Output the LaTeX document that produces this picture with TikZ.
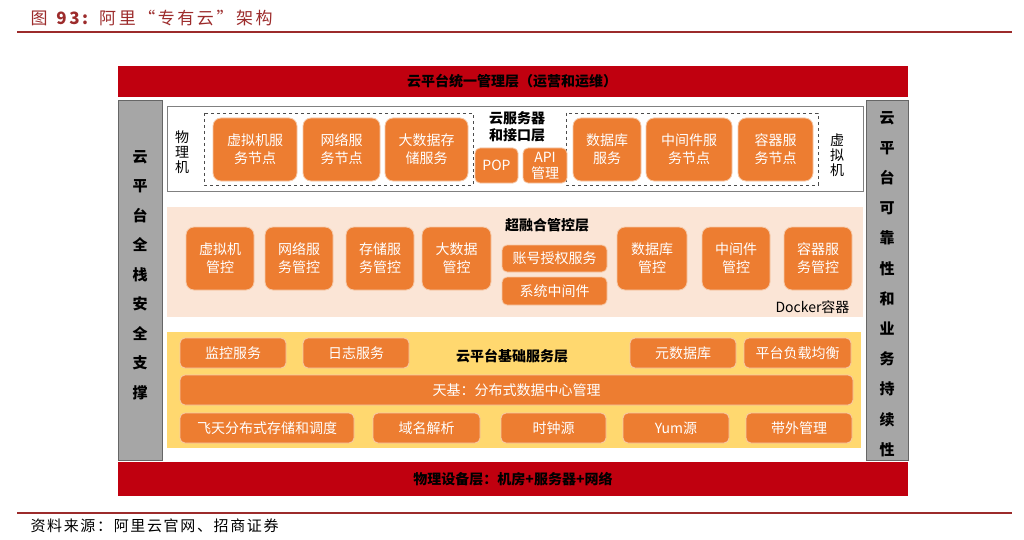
\documentclass[tikz,border=0pt]{standalone}
\usepackage{fontspec}
\setmainfont{Noto Sans CJK SC}
\newfontfamily\capfont{Noto Sans CJK SC}[LetterSpace=15]
\newfontfamily\srcfont{Noto Sans CJK SC}[LetterSpace=11]
\definecolor{barred}{HTML}{C0000F}
\definecolor{titlered}{HTML}{9C2B2B}
\definecolor{boxorange}{HTML}{ED7D31}
\definecolor{boxedge}{HTML}{F6C9A8}
\definecolor{peach}{HTML}{FBE5D6}
\definecolor{sunny}{HTML}{FFD86F}
\definecolor{sidegray}{HTML}{A6A6A6}
\tikzset{
  obox/.style={fill=boxorange, draw=boxedge, line width=0.8pt, rounded corners=8pt, text=white,
    font=\fontsize{14}{18}\selectfont, align=center, inner sep=0pt},
  sbox/.style={obox, rounded corners=5pt},
  layertitle/.style={font=\bfseries\fontsize{14}{17}\selectfont, align=center},
  vtext/.style={font=\fontsize{14}{15}\selectfont, align=center},
}
\begin{document}
\begin{tikzpicture}[x=1pt,y=-1pt]
 \useasboundingbox (0,0) rectangle (1024,540);
 \node[anchor=west, text=titlered, font=\capfont\fontsize{17}{20}\selectfont] (fig) at (27,18) {图 \textbf{93:} 阿里“专有云”架构};
 \draw[titlered, line width=1.2pt] (17,32) -- (1012,32);
 \draw[titlered, line width=1.2pt] (17,513) -- (1012,513);
 \node[anchor=west, font=\srcfont\fontsize{15}{17}\selectfont] (src) at (27,526) {资料来源：阿里云官网、招商证券};

 % frame
 \fill[barred] (118,66) rectangle (908,97);
 \fill[barred] (118,462) rectangle (908,496);
 \node[layertitle] (mgmt) at (512,81) {云平台统一管理层（运营和运维）};
 \node[layertitle] (phys) at (513,479) {物理设备层：机房+服务器+网络};
 \filldraw[fill=sidegray, draw=gray!80!black, line width=0.6pt] (118,100) rectangle (162,460);
 \filldraw[fill=sidegray, draw=gray!80!black, line width=0.6pt] (866,100) rectangle (908,460);
 \node[layertitle, font=\bfseries\fontsize{15}{29.5}\selectfont] (secure) at (140,275) {云\\平\\台\\全\\栈\\安\\全\\支\\撑};
 \node[layertitle, font=\bfseries\fontsize{15}{30.2}\selectfont] (reliab) at (887,284) {云\\平\\台\\可\\靠\\性\\和\\业\\务\\持\\续\\性};

 % server layer
 \draw[gray, line width=0.8pt, fill=white] (167,106) rectangle (863,191);
 \draw[gray!60!black, dashed, line width=0.9pt] (204,113) rectangle (473,185);
 \draw[gray!60!black, dashed, line width=0.9pt] (566,113) rectangle (818,185);
 \node[vtext] (pm) at (182,152) {物\\理\\机};
 \node[vtext] (vm) at (837,155) {虚\\拟\\机};
 \node[obox, minimum width=84, minimum height=63] (vmsvc) at (255,149.5) {虚拟机服\\务节点};
 \node[obox, minimum width=77, minimum height=63] (netsvc) at (341.5,149.5) {网络服\\务节点};
 \node[obox, minimum width=83, minimum height=63] (bdsvc) at (426.5,149.5) {大数据存\\储服务};
 \node[obox, minimum width=68, minimum height=63] (dbsvc) at (607,149.5) {数据库\\服务};
 \node[obox, minimum width=86, minimum height=63] (midsvc) at (689,149.5) {中间件服\\务节点};
 \node[obox, minimum width=75, minimum height=63] (ctsvc) at (775.5,149.5) {容器服\\务节点};
 \node[layertitle] (api layer) at (517,127) {云服务器\\和接口层};
 \node[sbox, minimum width=43, minimum height=35] (pop) at (496.5,165.5) {POP};
 \node[sbox, minimum width=44, minimum height=35, font=\fontsize{14}{16}\selectfont] (api) at (545,165.5) {API\\管理};

 % control layer
 \fill[peach] (167,207) rectangle (863,317);
 \node[layertitle] (ctl) at (547,225) {超融合管控层};
 \node[obox, minimum width=68, minimum height=63] (vmctl) at (220,258.5) {虚拟机\\管控};
 \node[obox, minimum width=68, minimum height=63] (netctl) at (299,258.5) {网络服\\务管控};
 \node[obox, minimum width=68, minimum height=63] (stctl) at (380,258.5) {存储服\\务管控};
 \node[obox, minimum width=69, minimum height=63] (bdctl) at (456.5,258.5) {大数据\\管控};
 \node[sbox, minimum width=105, minimum height=27] (acct) at (554.5,258.5) {账号授权服务};
 \node[sbox, minimum width=105, minimum height=28] (sysmid) at (554.5,291) {系统中间件};
 \node[obox, minimum width=70, minimum height=63] (dbctl) at (652,258.5) {数据库\\管控};
 \node[obox, minimum width=68, minimum height=63] (midctl) at (736,258.5) {中间件\\管控};
 \node[obox, minimum width=68, minimum height=63] (ctctl) at (818,258.5) {容器服\\务管控};
 \node[anchor=east, font=\fontsize{14}{17}\selectfont] (docker) at (853,307) {Docker容器};

 % base service layer
 \fill[sunny] (167,332) rectangle (861,448);
 \node[layertitle] (base) at (512,356) {云平台基础服务层};
 \node[sbox, minimum width=106, minimum height=30] (mon) at (233,353) {监控服务};
 \node[sbox, minimum width=106, minimum height=30] (log) at (356,353) {日志服务};
 \node[sbox, minimum width=106, minimum height=30] (meta) at (683,353) {元数据库};
 \node[sbox, minimum width=107, minimum height=30] (lb) at (797.5,353) {平台负载均衡};
 \node[sbox, minimum width=673, minimum height=30] (tianji) at (516.5,390) {天基：分布式数据中心管理};
 \node[sbox, minimum width=174, minimum height=30] (feitian) at (267,428) {飞天分布式存储和调度};
 \node[sbox, minimum width=107, minimum height=30] (dns) at (426.5,428) {域名解析};
 \node[sbox, minimum width=105, minimum height=30] (clock) at (553.5,428) {时钟源};
 \node[sbox, minimum width=106, minimum height=30] (yum) at (676,428) {Yum源};
 \node[sbox, minimum width=106, minimum height=30] (oob) at (799,428) {带外管理};
\end{tikzpicture}
\end{document}
